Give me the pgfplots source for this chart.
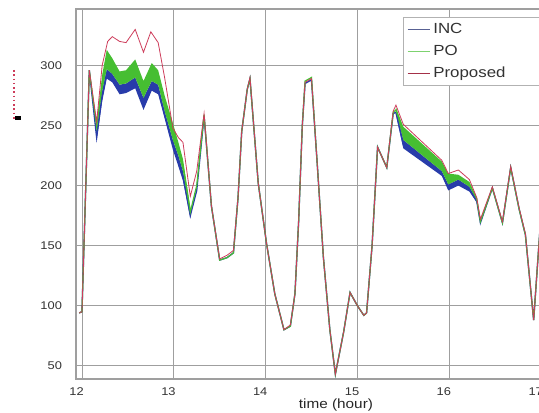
\documentclass[border=0pt]{standalone}
\usepackage{fontspec}
\setmainfont{Liberation Sans}[FakeStretch=1.15]
\usepackage{pgfplots}
\usepackage{pgfplotstable}
\pgfplotsset{compat=1.18}
\usepgfplotslibrary{fillbetween}

\definecolor{incblue}{RGB}{40,60,170}
\definecolor{pogreen}{RGB}{70,190,50}
\definecolor{propred}{RGB}{205,60,90}

% proposed method
\pgfplotstableread{
x y
11.97 94
12.00 95
12.08 296
12.16 253
12.22 300
12.28 320
12.33 324
12.41 320
12.48 319
12.58 330
12.67 311
12.75 328
12.83 319
12.90 290
12.99 248
13.05 240
13.10 236
13.18 191
13.25 212
13.33 260
13.41 183
13.50 139
13.58 142
13.65 146
13.70 190
13.74 245
13.80 280
13.83 290
13.92 202
14.01 152
14.10 110
14.20 80
14.27 84
14.32 110
14.36 170
14.40 250
14.43 286
14.50 289
14.56 221
14.63 140
14.70 80
14.76 43
14.85 78
14.92 111
15.00 100
15.07 92
15.10 94
15.16 150
15.22 232
15.32 215
15.39 262
15.42 267
15.50 251
15.92 221
15.99 210
16.10 213
16.22 205
16.30 190
16.34 172
16.47 199
16.58 170
16.67 216
16.76 182
16.83 160
16.92 88
16.99 165
}\propdata

% P&O
\pgfplotstableread{
x y
11.97 94
12.00 95
12.08 296
12.16 249
12.22 285
12.27 305
12.33 300
12.41 290
12.48 290
12.58 298
12.67 280
12.76 295
12.83 290
12.90 269
12.99 245
13.05 230
13.10 217
13.18 178
13.25 200
13.33 259
13.41 183
13.50 138
13.58 140
13.65 144
13.70 190
13.74 245
13.80 280
13.83 289
13.92 202
14.01 152
14.10 110
14.20 80
14.27 83
14.32 110
14.36 170
14.40 250
14.43 287
14.50 290
14.56 221
14.63 140
14.70 80
14.76 43
14.85 78
14.92 111
15.00 100
15.07 92
15.10 94
15.16 150
15.22 232
15.32 215
15.39 261
15.42 263
15.50 244
15.92 216
15.99 205
16.10 207
16.22 201
16.30 189
16.34 170
16.47 198
16.58 169
16.67 215
16.76 181
16.83 159
16.92 88
16.99 165
}\podata

% INC
\pgfplotstableread{
x y
11.97 94
12.00 95
12.08 296
12.16 240
12.22 275
12.27 293
12.33 290
12.41 280
12.48 281
12.58 285
12.67 268
12.76 283
12.83 280
12.90 259
12.99 234
13.05 220
13.10 208
13.18 175
13.25 196
13.33 258
13.41 183
13.50 138
13.58 140
13.65 144
13.70 190
13.74 245
13.80 280
13.83 289
13.92 202
14.01 152
14.10 110
14.20 80
14.27 83
14.32 110
14.36 170
14.40 250
14.43 285
14.50 288
14.56 221
14.63 140
14.70 80
14.76 43
14.85 78
14.92 111
15.00 100
15.07 92
15.10 94
15.16 150
15.22 232
15.32 215
15.39 260
15.42 261
15.50 234
15.92 210
15.99 198
16.10 202
16.22 197
16.30 187
16.34 169
16.47 198
16.58 169
16.67 215
16.76 181
16.83 159
16.92 88
16.99 165
}\incdata

% oscillation bands (upper/lower edges)
\pgfplotstableread{
x pohi polo inclo
12.16 252 246 238
12.22 292 278 270
12.27 313 297 289
12.33 306 293 286
12.41 295 284 276
12.48 296 285 277
12.58 305 290 281
12.67 287 273 263
12.76 302 287 279
12.83 296 284 276
12.90 275 262 256
12.99 252 238 230
13.05 236 225 216
13.10 222 212 204
13.18 182 176 173
}\bandA

\pgfplotstableread{
x pohi polo inclo
15.42 265 261 259
15.50 249 238 231
15.92 220 212 208
15.99 210 201 196
16.10 209 205 200
16.22 203 199 195
16.30 190 188 186
}\bandB

\begin{document}
\begin{tikzpicture}
\begin{axis}[
  at={(0,0)}, anchor=south west,
  scale only axis, width=348.75pt, height=277.5pt,
  xmin=11.935, xmax=17.0, ymin=39, ymax=347,
  xtick={12,13,14,15,16,17}, ytick={50,100,150,200,250,300},
  grid=major, grid style={gray!75, line width=0.7pt},
  axis line style={gray!75, line width=0.9pt},
  major tick length=0pt,
  /pgf/number format/assume math mode=true,
  ticklabel style={font=\fontsize{8.4}{10}\selectfont, text=black!80},
  xticklabel style={yshift=-3pt, xshift=-4pt},
  yticklabel style={xshift=-7pt},
  xlabel={time (hour)},
  xlabel style={font=\fontsize{10}{12}\selectfont, text=black!85,
    at={(axis description cs:0.559,0)}, anchor=north, yshift=-11pt},
  legend style={at={(axis description cs:0.703,0.978)}, anchor=north west,
    draw=gray!60, line width=0.6pt, fill=white,
    font=\fontsize{11}{12}\selectfont, text=black!80,
    nodes={inner sep=2pt}, row sep=3.5pt},
  legend cell align=left,
]
\addlegendimage{incblue!45!gray, line width=0.45pt}
\addlegendentry{INC}
\addlegendimage{pogreen!70!white, line width=0.45pt}
\addlegendentry{PO}
\addlegendimage{propred!80!black, line width=0.45pt}
\addlegendentry{\makebox[95pt][l]{Proposed}}

\addplot[incblue, line width=1.0pt, forget plot] table[x=x,y=y]{\incdata};
\addplot[pogreen, line width=0.9pt, forget plot] table[x=x,y=y]{\podata};

% bands
\addplot[draw=none, name path=aHi, forget plot] table[x=x,y=pohi]{\bandA};
\addplot[draw=none, name path=aLo, forget plot] table[x=x,y=polo]{\bandA};
\addplot[draw=none, name path=aInc, forget plot] table[x=x,y=inclo]{\bandA};
\addplot[fill=incblue, draw=none, forget plot] fill between[of=aLo and aInc];
\addplot[fill=pogreen, draw=none, forget plot] fill between[of=aHi and aLo];
\addplot[draw=none, name path=bHi, forget plot] table[x=x,y=pohi]{\bandB};
\addplot[draw=none, name path=bLo, forget plot] table[x=x,y=polo]{\bandB};
\addplot[draw=none, name path=bInc, forget plot] table[x=x,y=inclo]{\bandB};
\addplot[fill=incblue, draw=none, forget plot] fill between[of=bLo and bInc];
\addplot[fill=pogreen, draw=none, forget plot] fill between[of=bHi and bLo];

\addplot[propred, line width=0.6pt, forget plot] table[x=x,y=y]{\propdata};
\end{axis}
% garbled y label mark
\draw[propred, dotted, line width=1.2pt] (-46.5pt,231.75pt) -- (-46.5pt,194pt);
\fill[black] (-46pt,197pt) rectangle (-41.5pt,194.5pt);
\pgfresetboundingbox
\useasboundingbox (-57pt,-25.5pt) rectangle (347.25pt,284.25pt);
\end{tikzpicture}
\end{document}
